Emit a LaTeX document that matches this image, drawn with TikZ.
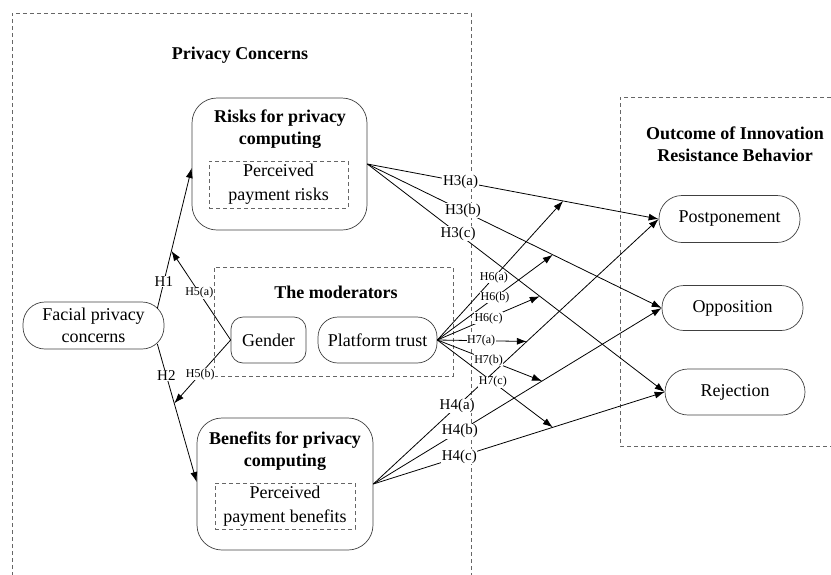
\documentclass[tikz,border=0pt]{standalone}
\usepackage{fontspec}
\setmainfont{Liberation Serif}
\usetikzlibrary{arrows.meta,calc}
\begin{document}
\begin{tikzpicture}[x=1pt,y=-1pt,
  rbox/.style={draw=black!75, line width=0.7pt, inner sep=0pt, align=center,
    font=\fontsize{18}{22}\selectfont},
  dbox/.style={draw=black!60, dash pattern=on 4pt off 3pt, line width=0.7pt},
  dnode/.style={dbox, inner sep=0pt, align=center, font=\fontsize{18}{24}\selectfont},
  ttl/.style={align=center, font=\bfseries\fontsize{18}{22}\selectfont},
  arr/.style={-{Latex[length=10pt,width=7pt]}, line width=0.8pt, black},
  lab/.style={fill=white, inner sep=0.6pt, font=\fontsize{15}{17}\selectfont},
  slab/.style={fill=white, inner sep=0.4pt, font=\fontsize{12}{14}\selectfont}]
\useasboundingbox (0,0) rectangle (831,574);
% outer dashed frames
\draw[dbox] (12,590) -- (12,13) -- (471,13) -- (471,590);
\draw[dbox] (845,97) -- (620,97) -- (620,446) -- (845,446);
\node[ttl] (pc) at (240,55) {Privacy Concerns};
\node[ttl] (ot) at (735,144) {Outcome of Innovation\\Resistance Behavior};
% left nodes
\node[rbox, rounded corners=22pt, minimum width=141pt, minimum height=47pt] (facial) at (93.5,325.5) {Facial privacy\\concerns};
\node[rbox, rounded corners=25pt, minimum width=175pt, minimum height=132pt] (risk) at (279.5,164) {};
\node[ttl] (risktitle) at (280,129) {Risks for privacy\\computing};
\node[dnode, minimum width=139pt, minimum height=47pt] (riskin) at (278.5,184.5) {Perceived\\payment risks};
\node[rbox, rounded corners=25pt, minimum width=176pt, minimum height=132pt] (bene) at (285,484) {};
\node[ttl] (benetitle) at (285,451) {Benefits for privacy\\computing};
\node[dnode, minimum width=140pt, minimum height=46pt] (benein) at (285,506) {Perceived\\payment benefits};
% moderators
\node[dbox, minimum width=239pt, minimum height=109pt] (mod) at (333.5,321.5) {};
\node[ttl] (modtitle) at (336,292) {The moderators};
\node[rbox, rounded corners=12pt, minimum width=75pt, minimum height=46pt] (gender) at (268.5,340) {Gender};
\node[rbox, rounded corners=20pt, minimum width=119pt, minimum height=46pt] (plat) at (377.5,340) {Platform trust};
% outcome nodes
\node[rbox, rounded corners=23pt, minimum width=141pt, minimum height=47pt] (post) at (729.5,219) {Postponement};
\node[rbox, rounded corners=22pt, minimum width=141pt, minimum height=45pt] (oppo) at (732.5,308) {Opposition};
\node[rbox, rounded corners=23pt, minimum width=140pt, minimum height=46pt] (reje) at (735,392) {Rejection};
% H1, H2
\draw[arr] ([xshift=-7pt,yshift=17pt]facial.east) -- node[lab,pos=0.19]{H1} coordinate[pos=0.41] (h1m) ([yshift=-4pt]risk.west);
\draw[arr] ([xshift=-7pt,yshift=-18.5pt]facial.east) -- node[lab,pos=0.23]{H2} coordinate[pos=0.43] (h2m) ([yshift=2pt]bene.west);
% H5
\draw[arr] (gender.west) -- node[slab,pos=0.53]{H5(a)} (h1m);
\draw[arr] (gender.west) -- node[slab,pos=0.54]{H5(b)} (h2m);
% H3
\draw[arr] (risk.east) -- node[lab,pos=0.32]{H3(a)} coordinate[pos=0.672] (h3a) (post.west);
\draw[arr] (risk.east) -- node[lab,pos=0.325]{H3(b)} coordinate[pos=0.63] (h3b) (oppo.west);
\draw[arr] (risk.east) -- node[lab,pos=0.305]{H3(c)} coordinate[pos=0.58] (h3c) (reje.west);
% H4
\draw[arr] (bene.east) -- node[lab,pos=0.294]{H4(a)} coordinate[pos=0.538] (h4a) (post.west);
\draw[arr] (bene.east) -- node[lab,pos=0.30]{H4(b)} coordinate[pos=0.585] (h4b) (oppo.west);
\draw[arr] (bene.east) -- node[lab,pos=0.295]{H4(c)} coordinate[pos=0.616] (h4c) (reje.west);
% H6, H7
\draw[arr] (plat.east) -- node[slab,pos=0.45]{H6(a)} (h3a);
\draw[arr] (plat.east) -- node[slab,pos=0.50]{H6(b)} (h3b);
\draw[arr] (plat.east) -- node[slab,pos=0.50]{H6(c)} (h3c);
\draw[arr] (plat.east) -- node[slab,pos=0.49]{H7(a)} (h4a);
\draw[arr] (plat.east) -- node[slab,pos=0.49]{H7(b)} (h4b);
\draw[arr] (plat.east) -- node[slab,pos=0.48]{H7(c)} (h4c);
\end{tikzpicture}
\end{document}
